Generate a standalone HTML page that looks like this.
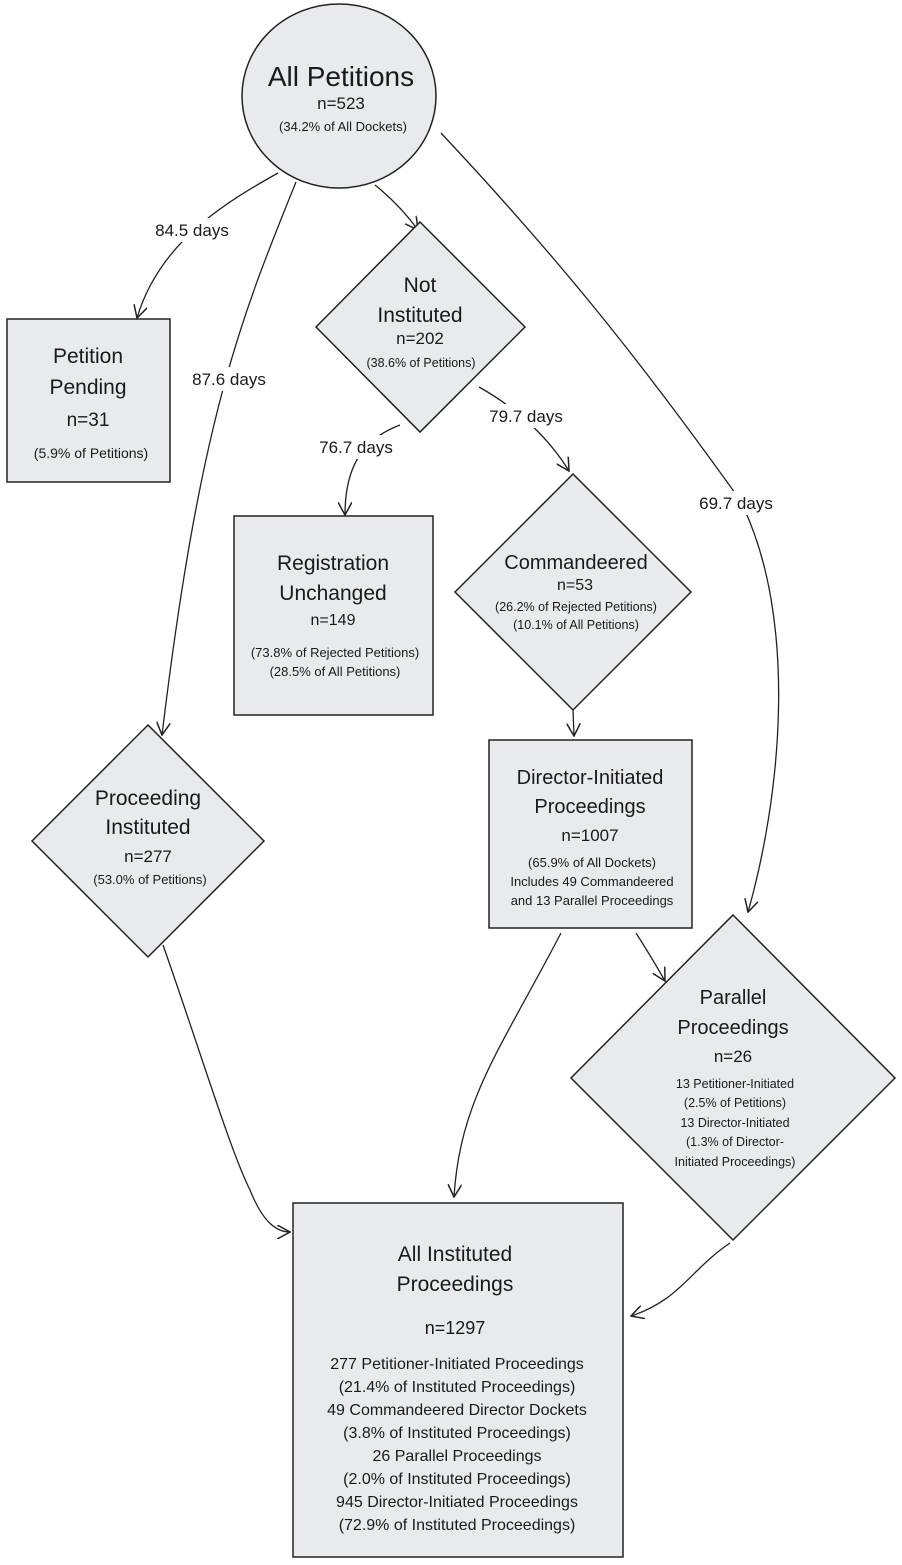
<!DOCTYPE html>
<html><head><meta charset="utf-8"><style>
html,body{margin:0;padding:0;background:#fff;}
svg{display:block;}
text{font-family:"Liberation Sans",sans-serif;fill:#1a1a1a;text-anchor:middle;}
.s{fill:#e8eaed;stroke:#222;stroke-width:1.5;}
.e{fill:none;stroke:#222;stroke-width:1.3;}
.l{font-size:17px;}
</style></head><body>
<svg width="902" height="1565" viewBox="0 0 902 1565" xmlns="http://www.w3.org/2000/svg">
<defs><marker id="a" viewBox="0 0 12 12" refX="11" refY="6" markerWidth="14" markerHeight="14" orient="auto" markerUnits="userSpaceOnUse"><path d="M0,0 L11,6 L0,12" fill="none" stroke="#222" stroke-width="1.3"/></marker></defs>

<!-- edges -->
<path class="e" marker-end="url(#a)" d="M278,173 C230,200 160,240 137,318"/>
<path class="e" marker-end="url(#a)" d="M296,182 C240,320 200,420 162,735"/>
<path class="e" marker-end="url(#a)" d="M375,185 Q400,205 418,230"/>
<path class="e" marker-end="url(#a)" d="M441,133 C560,260 640,360 740,500 C800,620 780,800 748,912"/>
<path class="e" marker-end="url(#a)" d="M400,425 C360,440 345,470 345,515"/>
<path class="e" marker-end="url(#a)" d="M479,387 C520,410 550,440 569,471"/>
<path class="e" marker-end="url(#a)" d="M573,710 L574,736"/>
<path class="e" marker-end="url(#a)" d="M163,945 C200,1050 230,1150 250,1190 C262,1220 275,1232 290,1232"/>
<path class="e" marker-end="url(#a)" d="M561,933 C500,1050 460,1100 454,1197"/>
<path class="e" marker-end="url(#a)" d="M636,933 Q652,958 665,981"/>
<path class="e" marker-end="url(#a)" d="M730,1243 C690,1270 680,1300 631,1316"/>

<!-- edge labels -->
<rect x="148" y="218" width="88" height="24" fill="#fff"/><text class="l" x="192" y="236">84.5 days</text>
<rect x="185" y="367" width="88" height="24" fill="#fff"/><text class="l" x="229" y="385">87.6 days</text>
<rect x="692" y="491" width="88" height="24" fill="#fff"/><text class="l" x="736" y="509">69.7 days</text>
<rect x="312" y="435" width="88" height="24" fill="#fff"/><text class="l" x="356" y="453">76.7 days</text>
<rect x="482" y="404" width="88" height="24" fill="#fff"/><text class="l" x="526" y="422">79.7 days</text>

<!-- nodes -->
<ellipse class="s" cx="339" cy="96" rx="97" ry="92"/>
<text x="341" y="86" font-size="28">All Petitions</text>
<text x="341" y="109" font-size="17">n=523</text>
<text x="343" y="131" font-size="13">(34.2% of All Dockets)</text>

<rect class="s" x="7" y="319" width="163" height="163"/>
<text x="88" y="363" font-size="21">Petition</text>
<text x="88" y="394" font-size="21">Pending</text>
<text x="88" y="426" font-size="19">n=31</text>
<text x="91" y="458" font-size="14">(5.9% of Petitions)</text>

<polygon class="s" points="420,222 525,327 420,432 316,327"/>
<text x="420" y="292" font-size="21">Not</text>
<text x="420" y="322" font-size="21">Instituted</text>
<text x="420" y="344" font-size="17">n=202</text>
<text x="421" y="367" font-size="12.5">(38.6% of Petitions)</text>

<rect class="s" x="234" y="516" width="199" height="199"/>
<text x="333" y="570" font-size="21">Registration</text>
<text x="333" y="600" font-size="21">Unchanged</text>
<text x="333" y="625" font-size="16">n=149</text>
<text x="335" y="657" font-size="13">(73.8% of Rejected Petitions)</text>
<text x="335" y="676" font-size="13">(28.5% of All Petitions)</text>

<polygon class="s" points="573,474 691,592 573,710 455,592"/>
<text x="576" y="569" font-size="20">Commandeered</text>
<text x="575" y="590" font-size="16">n=53</text>
<text x="576" y="611" font-size="12.5">(26.2% of Rejected Petitions)</text>
<text x="576" y="629" font-size="12.5">(10.1% of All Petitions)</text>

<polygon class="s" points="148,725 264,841 148,957 32,841"/>
<text x="148" y="805" font-size="21">Proceeding</text>
<text x="148" y="834" font-size="21">Instituted</text>
<text x="148" y="862" font-size="17">n=277</text>
<text x="150" y="884" font-size="13">(53.0% of Petitions)</text>

<rect class="s" x="489" y="740" width="203" height="188"/>
<text x="590" y="784" font-size="20">Director-Initiated</text>
<text x="590" y="813" font-size="20">Proceedings</text>
<text x="590" y="841" font-size="17">n=1007</text>
<text x="592" y="867" font-size="13">(65.9% of All Dockets)</text>
<text x="592" y="886" font-size="13">Includes 49 Commandeered</text>
<text x="592" y="905" font-size="13">and 13 Parallel Proceedings</text>

<polygon class="s" points="733,915 895,1078 733,1240 571,1078"/>
<text x="733" y="1004" font-size="20">Parallel</text>
<text x="733" y="1034" font-size="20">Proceedings</text>
<text x="733" y="1062" font-size="17">n=26</text>
<text x="735" y="1088" font-size="12.5">13 Petitioner-Initiated</text>
<text x="735" y="1107" font-size="12.5">(2.5% of Petitions)</text>
<text x="735" y="1127" font-size="12.5">13 Director-Initiated</text>
<text x="735" y="1146" font-size="12.5">(1.3% of Director-</text>
<text x="735" y="1166" font-size="12.5">Initiated Proceedings)</text>

<rect class="s" x="293" y="1203" width="330" height="354"/>
<text x="455" y="1261" font-size="21">All Instituted</text>
<text x="455" y="1291" font-size="21">Proceedings</text>
<text x="455" y="1334" font-size="18">n=1297</text>
<text x="457" y="1369" font-size="16">277 Petitioner-Initiated Proceedings</text>
<text x="457" y="1392" font-size="16">(21.4% of Instituted Proceedings)</text>
<text x="457" y="1415" font-size="16">49 Commandeered Director Dockets</text>
<text x="457" y="1438" font-size="16">(3.8% of Instituted Proceedings)</text>
<text x="457" y="1461" font-size="16">26 Parallel Proceedings</text>
<text x="457" y="1484" font-size="16">(2.0% of Instituted Proceedings)</text>
<text x="457" y="1507" font-size="16">945 Director-Initiated Proceedings</text>
<text x="457" y="1530" font-size="16">(72.9% of Instituted Proceedings)</text>
</svg>
</body></html>
